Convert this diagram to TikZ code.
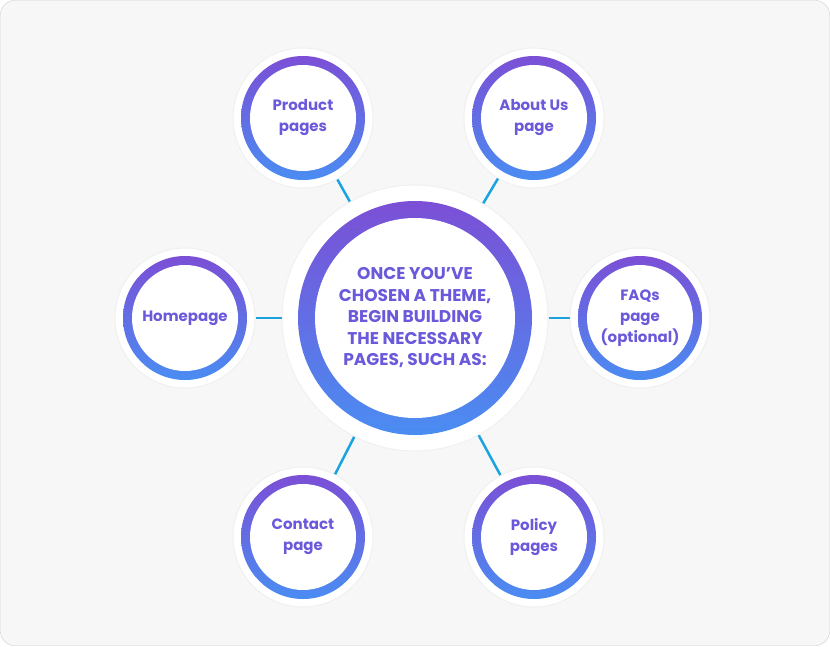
\documentclass[tikz,border=0pt]{standalone}
\usepackage{fontspec}
\setmainfont{Poppins}
\definecolor{ringtop}{HTML}{7B4FD6}
\definecolor{ringbot}{HTML}{4A8DF2}
\definecolor{linkcol}{HTML}{1BA3E0}
\definecolor{txtcol}{HTML}{6A5ADB}
\definecolor{bgcol}{HTML}{F7F7F8}
\tikzset{
  halo/.style={circle, fill=white, draw=black!6, line width=1pt, inner sep=0pt},
  link/.style={draw=linkcol, line width=2.5pt},
  label/.style={align=center, text=txtcol, font=\bfseries\fontsize{15}{21}\selectfont},
}
\newcommand{\ringnode}[5]{% name, position, halo radius, ring radius, text
  \node[halo, minimum size=2*#3] (#1) at #2 {};
  \shade[top color=ringtop, bottom color=ringbot] #2 circle (#4);
  \fill[white] #2 circle (#4-9pt);
  \node[label] (#1-t) at #2 {#5};
}
\begin{document}
\begin{tikzpicture}[x=1pt,y=-1pt]

% Background
\useasboundingbox (0,0) rectangle (830,646);
\draw[fill=bgcol, draw=black!20, rounded corners=14pt] (0.5,0.5) rectangle (829.5,645.5);

% Center
\node[halo, minimum size=266pt] (centre) at (415,318) {};
\shade[top color=ringtop, bottom color=ringbot] (415,318) circle (117);
\fill[white] (415,318) circle (100);
\node[label, font=\bfseries\fontsize{17}{21.5}\selectfont] (centre-t) at (415,318)
  {ONCE YOU’VE\\CHOSEN A THEME,\\BEGIN BUILDING\\THE NECESSARY\\PAGES, SUCH AS:};

% Satellites
\ringnode{product}{(303,118)}{70pt}{62}{Product\\pages}
\ringnode{about}{(534,118)}{70pt}{62}{About Us\\page}
\ringnode{home}{(185,318)}{70pt}{62}{Homepage}
\ringnode{faq}{(640,318)}{70pt}{62}{FAQs\\page\\(optional)}
\ringnode{contact}{(303,537)}{70pt}{62}{Contact\\page}
\ringnode{policy}{(534,537)}{70pt}{62}{Policy\\pages}

% Links
\foreach \n in {product,about,home,faq,contact,policy}
  \draw[link] (centre) -- (\n);

\end{tikzpicture}
\end{document}
